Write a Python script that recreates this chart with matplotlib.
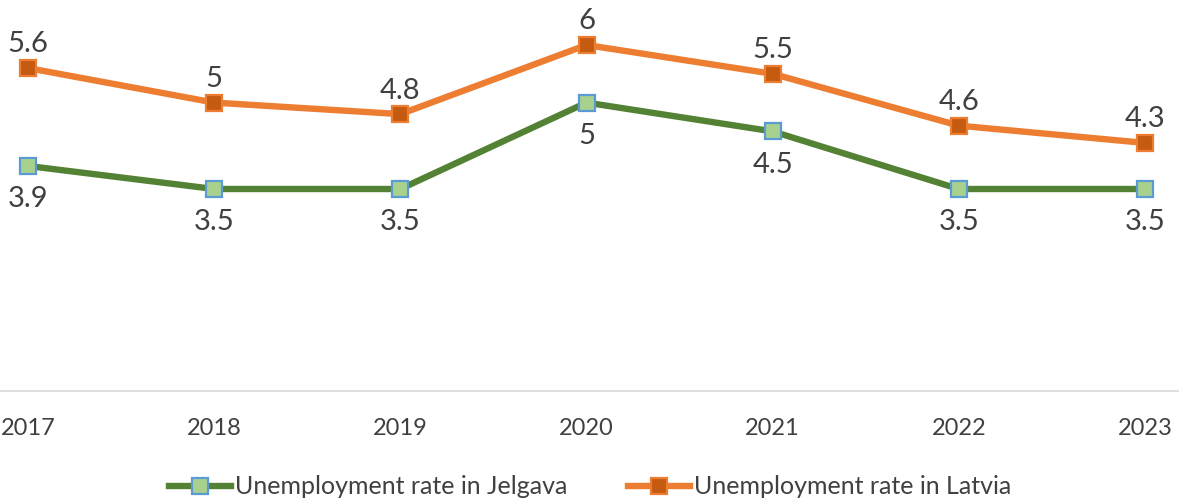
import matplotlib
matplotlib.use("Agg")
import matplotlib.pyplot as plt

years = ["2017", "2018", "2019", "2020", "2021", "2022", "2023"]
jelgava = [3.9, 3.5, 3.5, 5, 4.5, 3.5, 3.5]
latvia = [5.6, 5, 4.8, 6, 5.5, 4.6, 4.3]

plt.rcParams["font.family"] = ["Lato", "DejaVu Sans"]
TEXT = "#404040"

fig = plt.figure(figsize=(11.79, 5.0), dpi=100)
ax = fig.add_axes([0, 109.4 / 500, 1, 390.6 / 500])

x = list(range(len(years)))
ax.plot(x, jelgava, color="#548235", linewidth=4.6, marker="s",
        markersize=11, markerfacecolor="#A9D18E", markeredgecolor="#5B9BD5",
        markeredgewidth=1.6, label="Unemployment rate in Jelgava", zorder=3)
ax.plot(x, latvia, color="#ED7D31", linewidth=4.6, marker="s",
        markersize=11, markerfacecolor="#C55A11", markeredgecolor="#ED7D31",
        markeredgewidth=1.6, label="Unemployment rate in Latvia", zorder=3)

for xi, v in zip(x, latvia):
    ax.annotate(f"{v:g}", (xi, v), xytext=(0, 17), textcoords="offset points",
                ha="center", va="center", fontsize=21, color=TEXT)
for xi, v in zip(x, jelgava):
    ax.annotate(f"{v:g}", (xi, v), xytext=(0, -24), textcoords="offset points",
                ha="center", va="center", fontsize=21, color=TEXT)

ax.set_xlim(-28 / 186.2, 6 + 34 / 186.2)
ax.set_ylim(0, 390.6 / 57.6)
ax.set_xticks(x)
ax.set_xticklabels(years)
ax.set_yticks([])
ax.tick_params(axis="x", length=0, pad=20, labelsize=17, labelcolor=TEXT)

for s in ["top", "left", "right"]:
    ax.spines[s].set_visible(False)
ax.spines["bottom"].set_color("#D9D9D9")
ax.spines["bottom"].set_linewidth(1.2)

fig.legend(loc="center", bbox_to_anchor=(590 / 1179, 13 / 500), ncol=2,
           frameon=False, fontsize=18, handlelength=2.5, handletextpad=0.15,
           columnspacing=2.4, labelcolor=TEXT)

fig.savefig("out.png", dpi=100)
